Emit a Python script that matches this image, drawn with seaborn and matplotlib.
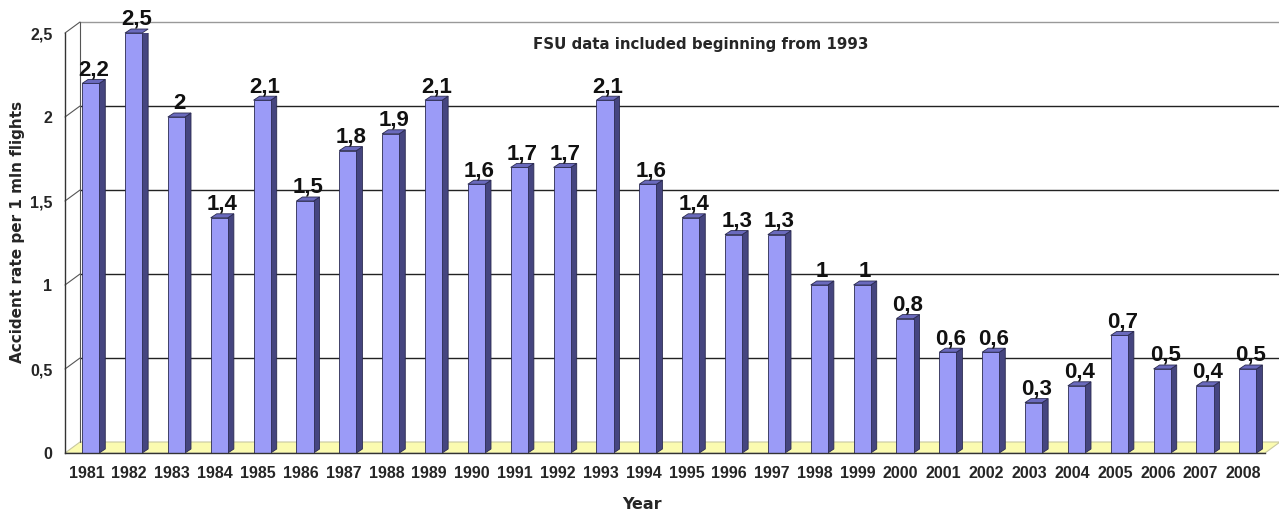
import numpy as np
import pandas as pd
import matplotlib
matplotlib.use('Agg')
import matplotlib.pyplot as plt
import matplotlib.font_manager as fm
import seaborn as sns
from matplotlib.patches import Polygon

years = [str(y) for y in range(1981, 2009)]
rates = [2.2, 2.5, 2.0, 1.4, 2.1, 1.5, 1.8, 1.9, 2.1, 1.6, 1.7, 1.7, 2.1, 1.6,
         1.4, 1.3, 1.3, 1.0, 1.0, 0.8, 0.6, 0.6, 0.3, 0.4, 0.7, 0.5, 0.4, 0.5]
y_ticks = [0, 0.5, 1, 1.5, 2, 2.5]
y_tick_labels = ['0', '0,5', '1', '1,5', '2', '2,5']
note = 'FSU data included beginning from 1993'

df = pd.DataFrame({'Year': years, 'Rate': rates})

sns.set_style('white')
plt.rcParams['font.family'] = ['Liberation Sans', 'DejaVu Sans']


def arial_bold(size):
    # pick the regular-width Liberation Sans Bold file, not the Narrow one
    for f in fm.fontManager.ttflist:
        if f.fname.endswith('LiberationSans-Bold.ttf'):
            return fm.FontProperties(fname=f.fname, size=size)
    return fm.FontProperties(family='Liberation Sans', weight='bold', size=size)


front_col = '#9b9bf7'
side_col = '#45457f'
top_col = '#6a6abd'
edge_col = '#2a2a50'

W, H = 1279, 513
fig = plt.figure(figsize=(W / 100, H / 100), dpi=100)
ax = fig.add_axes([65 / W, (H - 453) / H, 1200 / W, 420 / H])
n = len(years)
ax.set_xlim(-0.5, n - 0.5)
ax.set_ylim(0, 2.5)

# pixel -> data conversions (layout is fixed)
ux = 1200 / n
uy = 420 / 2.5
wall_dx, wall_dy = 15 / ux, 11 / uy
bar_dx, bar_dy = 6 / ux, 4 / uy

# back wall and floor
x0, x1 = -0.5, n - 0.5
floor = Polygon([(x0, 0), (x1, 0), (x1 + wall_dx, wall_dy), (x0 + wall_dx, wall_dy)],
                closed=True, facecolor='#fbfbb0', edgecolor='#c8c8a0', lw=0.8,
                clip_on=False, zorder=0)
ax.add_patch(floor)
for v in y_ticks[1:]:
    ax.plot([x0 + wall_dx, x1 + wall_dx], [v + wall_dy, v + wall_dy],
            color='#222222' if v < 2.5 else '#999999', lw=1.0, clip_on=False, zorder=0.5)
    ax.plot([x0, x0 + wall_dx], [v, v + wall_dy], color='#555555', lw=0.8,
            clip_on=False, zorder=0.5)
ax.plot([x0 + wall_dx, x0 + wall_dx], [wall_dy, 2.5 + wall_dy], color='#555555',
        lw=0.8, clip_on=False, zorder=0.5)

sns.barplot(data=df, x='Year', y='Rate', color=front_col, width=0.4,
            saturation=1, edgecolor=edge_col, linewidth=0.6, ax=ax, zorder=2)

lbl_font = arial_bold(16)
for p in list(ax.patches):
    if p is floor:
        continue
    p.set_x(p.get_x() + 0.1)
    bx, bw, bh = p.get_x(), p.get_width(), p.get_height()
    side = Polygon([(bx + bw, 0), (bx + bw + bar_dx, bar_dy),
                    (bx + bw + bar_dx, bh + bar_dy), (bx + bw, bh)],
                   closed=True, facecolor=side_col, edgecolor=edge_col, lw=0.6, zorder=1.9)
    top = Polygon([(bx, bh), (bx + bw, bh), (bx + bw + bar_dx, bh + bar_dy),
                   (bx + bar_dx, bh + bar_dy)],
                  closed=True, facecolor=top_col, edgecolor=edge_col, lw=0.6,
                  zorder=1.9, clip_on=False)
    ax.add_patch(side)
    ax.add_patch(top)
    lbl = f'{bh:g}'.replace('.', ',')
    ax.annotate(lbl, (bx + bw / 2, bh), xytext=(3, 8), textcoords='offset pixels',
                ha='center', va='baseline', fontproperties=lbl_font,
                color='#111111', annotation_clip=False)

# axes styling
for s in ['top', 'right']:
    ax.spines[s].set_visible(False)
for s in ['left', 'bottom']:
    ax.spines[s].set_color('#333333')
    ax.spines[s].set_linewidth(1.0)
tick_font = arial_bold(11.5)
ax.set_yticks(y_ticks)
ax.set_yticklabels(y_tick_labels, fontproperties=tick_font)
ax.tick_params(axis='y', length=6, width=1, color='#333333', pad=3)
ax.set_xticks(range(n))
ax.set_xticklabels(years, fontproperties=tick_font)
ax.set_xticks(np.arange(-0.5, n, 1), minor=True)
ax.tick_params(axis='x', which='major', length=0, pad=9)
ax.tick_params(axis='x', which='minor', length=6, width=1, color='#333333')

ax.set_xlabel('Year', fontsize=11.5, fontweight='bold', family='DejaVu Sans')
ax.xaxis.set_label_coords(0.481, -0.105)
ax.set_ylabel('Accident rate per 1 mln flights', fontsize=11, fontweight='bold',
              family='DejaVu Sans')
ax.yaxis.set_label_coords(-0.033, 0.526)
ax.text(0.53, 0.973, note, transform=ax.transAxes, ha='center', va='center',
        fontsize=10.8, fontweight='bold', family='DejaVu Sans')

fig.savefig('out.png', dpi=100)
